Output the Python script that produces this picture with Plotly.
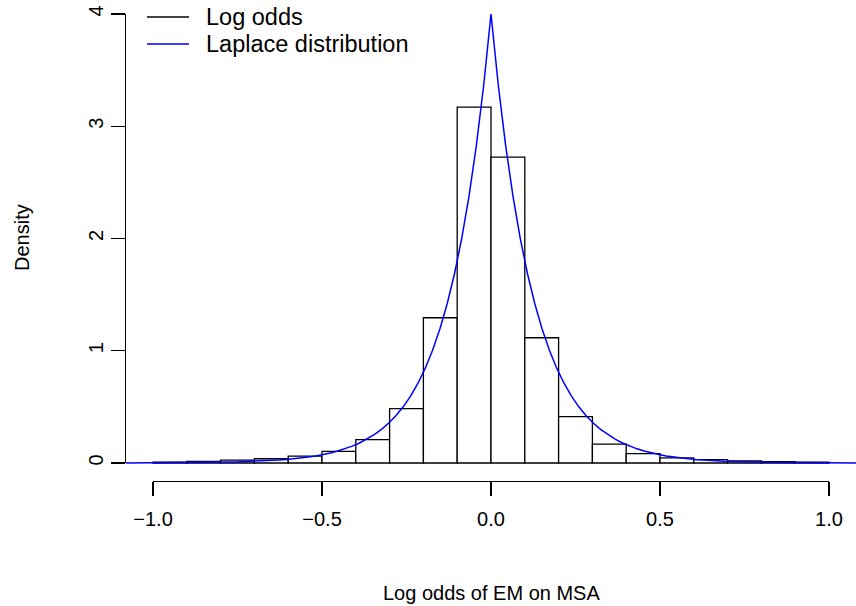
import numpy as np
import plotly.graph_objects as go

# ---- data ----
bin_edges = [-1.0, -0.9, -0.8, -0.7, -0.6, -0.5, -0.4, -0.3, -0.2, -0.1, 0.0,
             0.1, 0.2, 0.3, 0.4, 0.5, 0.6, 0.7, 0.8, 0.9, 1.0]
densities = [0.008, 0.015, 0.025, 0.038, 0.062, 0.104, 0.208, 0.484, 1.294, 3.17,
             2.725, 1.116, 0.413, 0.169, 0.083, 0.046, 0.030, 0.018, 0.012, 0.008]
laplace_loc = 0.0
laplace_scale = 0.125
x_ticks = [-1.0, -0.5, 0.0, 0.5, 1.0]
x_ticklabels = ["\u22121.0", "\u22120.5", "0.0", "0.5", "1.0"]
y_ticks = [0, 1, 2, 3, 4]
y_ticklabels = ["0", "1", "2", "3", "4"]
legend_labels = ["Log odds", "Laplace distribution"]
legend_colors = ["black", "blue"]
x_title = "Log odds of EM on MSA"
y_title = "Density"

# ---- layout geometry (pixels) ----
W, H = 856, 606
px_x0, px_per_x = 491.0, 338.0      # pixel of x=0, pixels per unit
px_y0, px_per_y = 463.0, 112.25     # pixel of y=0, pixels per unit
plot_left, plot_bottom = 125.0, 481.0
FONT = "Liberation Sans, Arial, Helvetica, sans-serif"
FS = 20
FS_LEG = 23.5

edges = np.array(bin_edges)
centers = (edges[:-1] + edges[1:]) / 2
widths = np.diff(edges)

xr = [-px_x0 / px_per_x, (W - px_x0) / px_per_x]
yr = [-(H - px_y0) / px_per_y, px_y0 / px_per_y]

cx = np.linspace(-1.08, 1.08, 101)
cy = np.exp(-np.abs(cx - laplace_loc) / laplace_scale) / (2 * laplace_scale)

fig = go.Figure()
# dummy trace to activate the R-style axes
fig.add_trace(go.Scatter(x=[0], y=[0], mode="markers", marker=dict(opacity=0),
                         xaxis="x2", yaxis="y2", showlegend=False, hoverinfo="skip"))
fig.add_trace(go.Bar(x=centers, y=densities, width=widths,
                     marker=dict(color="white", line=dict(color="black", width=1.3)),
                     xaxis="x", yaxis="y", showlegend=False, hoverinfo="skip"))
fig.add_trace(go.Scatter(x=cx, y=cy, mode="lines",
                         line=dict(color="blue", width=1.5),
                         xaxis="x", yaxis="y", showlegend=False, hoverinfo="skip"))

fig.update_layout(
    template="none",
    width=W, height=H,
    margin=dict(l=0, r=0, t=0, b=0, pad=0),
    paper_bgcolor="white", plot_bgcolor="rgba(0,0,0,0)",
    bargap=0,
    font=dict(family=FONT, size=FS, color="black"),
    xaxis=dict(domain=[0, 1], range=xr, visible=False, fixedrange=True,
               automargin=False),
    yaxis=dict(domain=[0, 1], range=yr, visible=False, fixedrange=True,
               automargin=False),
    xaxis2=dict(domain=[(px_x0 - px_per_x) / W, (px_x0 + px_per_x) / W],
                range=[-1, 1], anchor="free", position=(H - plot_bottom) / H,
                automargin=False, fixedrange=True,
                showline=True, linecolor="black", linewidth=1.3,
                ticks="outside", ticklen=14, tickwidth=1.3, tickcolor="black",
                tickvals=x_ticks, ticktext=x_ticklabels, showgrid=False,
                ticklabelstandoff=6,
                zeroline=False, tickfont=dict(family=FONT, size=FS, color="black")),
    yaxis2=dict(domain=[(H - px_y0) / H, (H - px_y0 + 4 * px_per_y) / H],
                range=[0, 4], anchor="free", position=plot_left / W,
                automargin=False, fixedrange=True,
                showline=True, linecolor="black", linewidth=1.3,
                ticks="outside", ticklen=14, tickwidth=1.3, tickcolor="black",
                tickvals=y_ticks, ticktext=y_ticklabels, tickangle=-90,
                showgrid=False, zeroline=False,
                tickfont=dict(family=FONT, size=FS, color="black")),
)

annotations = [
    dict(text=x_title, x=491 / W, y=(H - 593) / H, xref="paper", yref="paper",
         showarrow=False, xanchor="center", yanchor="middle",
         font=dict(family=FONT, size=FS, color="black")),
    dict(text=y_title, x=22 / W, y=(H - 238) / H, xref="paper", yref="paper",
         showarrow=False, xanchor="center", yanchor="middle", textangle=-90,
         font=dict(family=FONT, size=FS, color="black")),
]
shapes = []
leg_y = [17, 44]
for lab, col, ly in zip(legend_labels, legend_colors, leg_y):
    shapes.append(dict(type="line", xref="paper", yref="paper",
                       x0=147 / W, x1=189 / W, y0=(H - ly) / H, y1=(H - ly) / H,
                       line=dict(color=col, width=1.3)))
    annotations.append(dict(text=lab, x=204 / W, y=(H - ly) / H, xref="paper",
                            yref="paper", showarrow=False, xanchor="left",
                            yanchor="middle",
                            font=dict(family=FONT, size=FS_LEG, color="black")))
fig.update_layout(annotations=annotations, shapes=shapes)

fig.write_html("out.html",
               config={"displayModeBar": False, "staticPlot": True},
               post_script="document.body.style.margin='0px';"
                           "document.body.style.overflow='hidden';")
